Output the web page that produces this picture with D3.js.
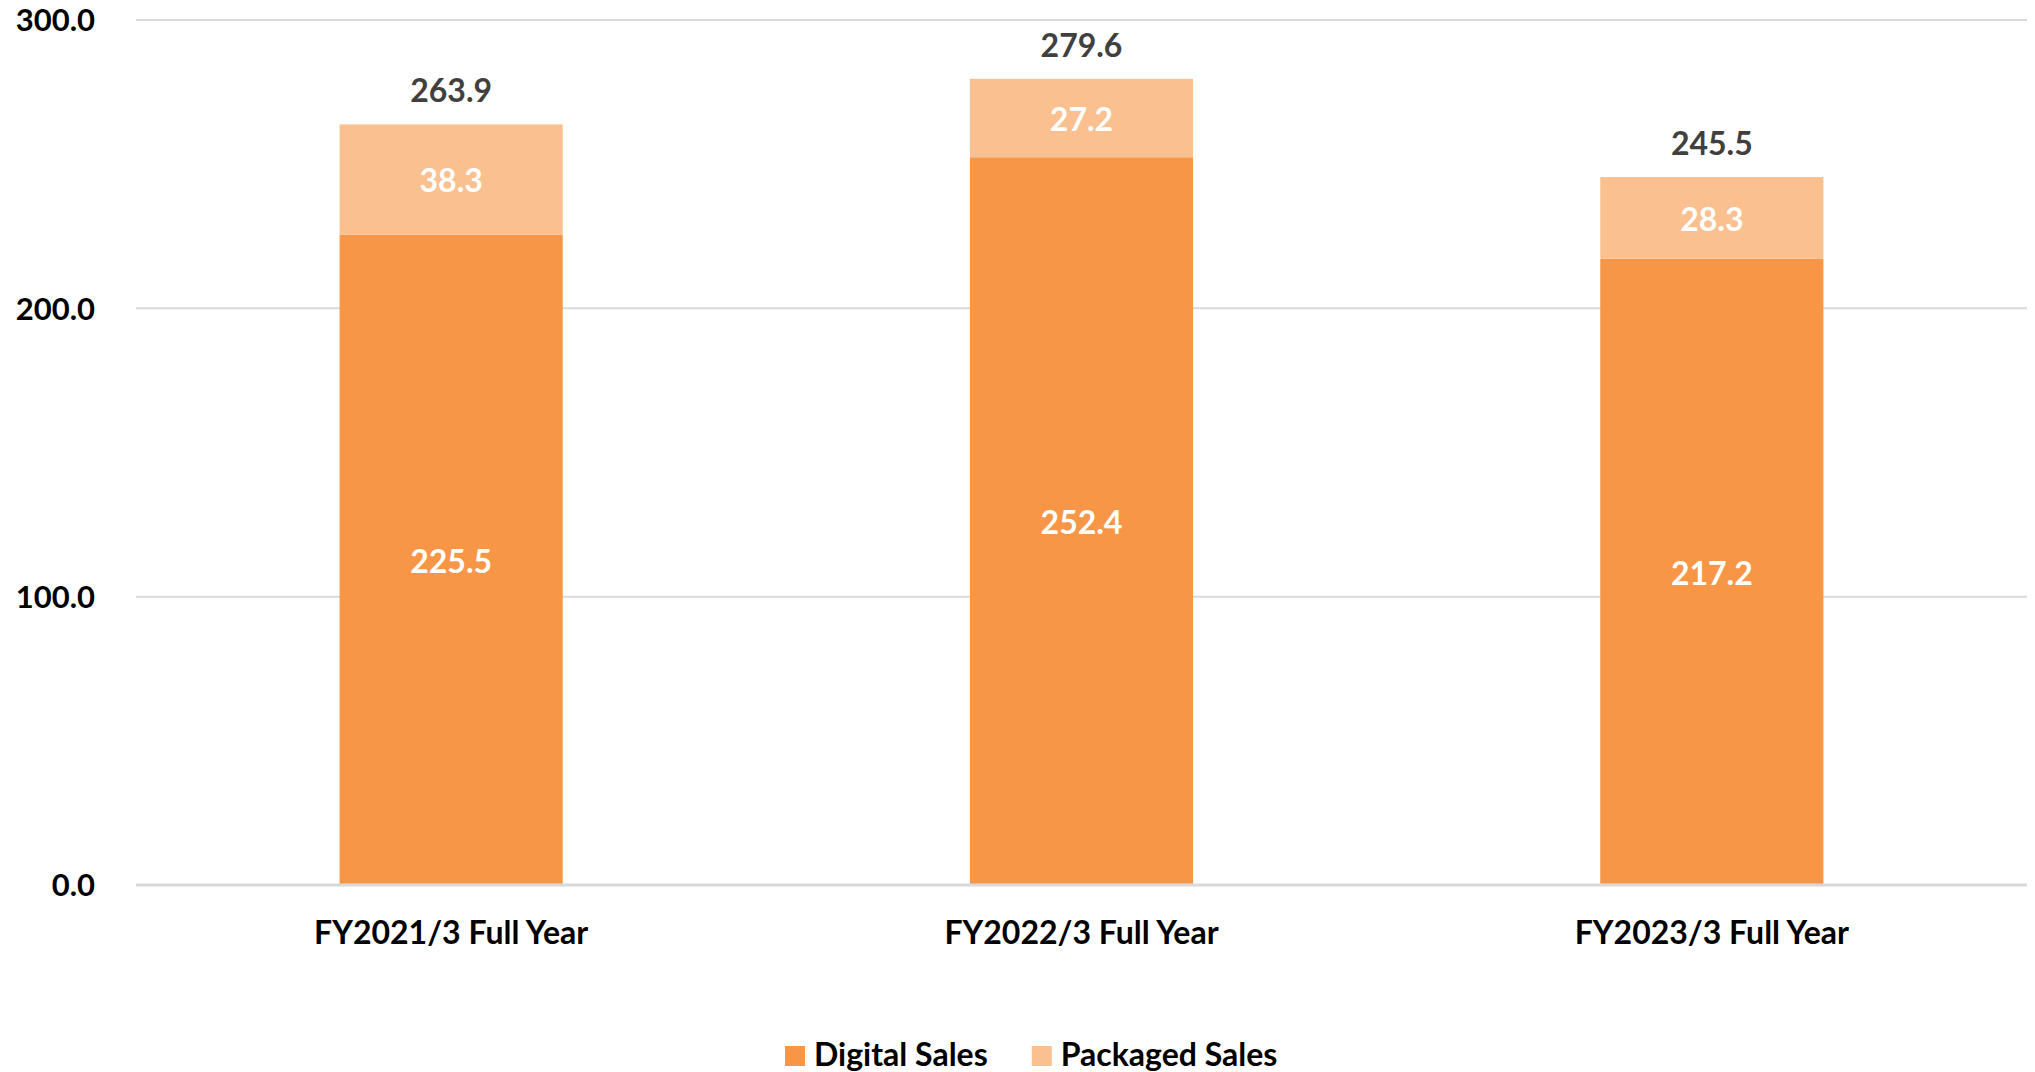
<!DOCTYPE html>
<html>
<head>
<meta charset="utf-8">
<script src="https://cdn.jsdelivr.net/npm/d3@7"></script>
<style>
html,body{margin:0;padding:0;background:#fff;overflow:hidden;}
svg{display:block;font-family:Lato, "Open Sans", sans-serif;font-weight:700;}
</style>
</head>
<body>
<svg id="chart" width="2035" height="1072"></svg>
<script>
const categories = ["FY2021/3 Full Year", "FY2022/3 Full Year", "FY2023/3 Full Year"];
const digitalSales = [225.5, 252.4, 217.2];
const packagedSales = [38.3, 27.2, 28.3];
const totals = [263.9, 279.6, 245.5];
const yTicks = [0, 100, 200, 300];
const seriesNames = ["Digital Sales", "Packaged Sales"];
const seriesColors = ["#F79646", "#FAC090"];

const svg = d3.select("#chart");
const plotLeft = 136, plotRight = 2027, plotTop = 20, plotBottom = 885;

const x = d3.scaleBand().domain(categories).range([plotLeft, plotRight])
  .paddingInner(0.646).paddingOuter(0.323);
const y = d3.scaleLinear().domain([0, 300]).range([plotBottom, plotTop]);

// gridlines
svg.append("g").selectAll("line").data(yTicks.filter(d => d > 0)).join("line")
  .attr("x1", plotLeft).attr("x2", plotRight)
  .attr("y1", d => y(d)).attr("y2", d => y(d))
  .attr("stroke", "#D9D9D9").attr("stroke-width", 2);

// y axis labels
const yAxis = d3.axisLeft(y).tickValues(yTicks).tickFormat(d3.format(".1f")).tickSize(0).tickPadding(0);
const yg = svg.append("g").attr("transform", `translate(${plotLeft - 41},0)`).call(yAxis);
yg.select(".domain").remove();
yg.selectAll("text").attr("font-size", 31).attr("font-family", "Lato, sans-serif")
  .attr("font-weight", 700).attr("fill", "#000").attr("dy", "0.35em");

// stack
const rows = categories.map((c, i) => ({cat: c, d: digitalSales[i], p: packagedSales[i], t: totals[i]}));
const stack = d3.stack().keys(["d", "p"])(rows);

stack.forEach((layer, li) => {
  svg.append("g").selectAll("rect").data(layer).join("rect")
    .attr("x", d => x(d.data.cat)).attr("width", x.bandwidth())
    .attr("y", d => y(d[1])).attr("height", d => y(d[0]) - y(d[1]))
    .attr("fill", seriesColors[li]);
  svg.append("g").selectAll("text").data(layer).join("text")
    .attr("x", d => x(d.data.cat) + x.bandwidth() / 2)
    .attr("y", d => (y(d[0]) + y(d[1])) / 2)
    .attr("dy", "0.4em")
    .attr("text-anchor", "middle").attr("font-size", 32).attr("fill", "#fff")
    .text(d => d3.format(".1f")(d[1] - d[0]));
});

// axis baseline
svg.append("line").attr("x1", plotLeft).attr("x2", plotRight).attr("y1", y(0)).attr("y2", y(0))
  .attr("stroke", "#D9D9D9").attr("stroke-width", 3);

// totals
svg.append("g").selectAll("text").data(rows).join("text")
  .attr("x", d => x(d.cat) + x.bandwidth() / 2)
  .attr("y", d => y(d.t) - 22)
  .attr("text-anchor", "middle").attr("font-size", 32).attr("fill", "#404040")
  .text(d => d3.format(".1f")(d.t));

// x axis labels
const xAxis = d3.axisBottom(x).tickSize(0).tickPadding(0);
const xg = svg.append("g").attr("transform", `translate(0,${plotBottom})`).call(xAxis);
xg.select(".domain").remove();
xg.selectAll("text").attr("font-size", 32).attr("font-family", "Lato, sans-serif")
  .attr("font-weight", 700).attr("fill", "#000").attr("dy", null).attr("y", 59);

// legend
const lg = svg.append("g");
let lx = 785;
seriesNames.forEach((n, i) => {
  lg.append("rect").attr("x", lx).attr("y", 1046).attr("width", 20).attr("height", 20)
    .attr("fill", seriesColors[i]);
  const t = lg.append("text").attr("x", lx + 29).attr("y", 1066)
    .attr("font-size", 32).attr("fill", "#000").text(n);
  lx = lx + 29 + t.node().getComputedTextLength() + 44;
});
</script>
</body>
</html>
